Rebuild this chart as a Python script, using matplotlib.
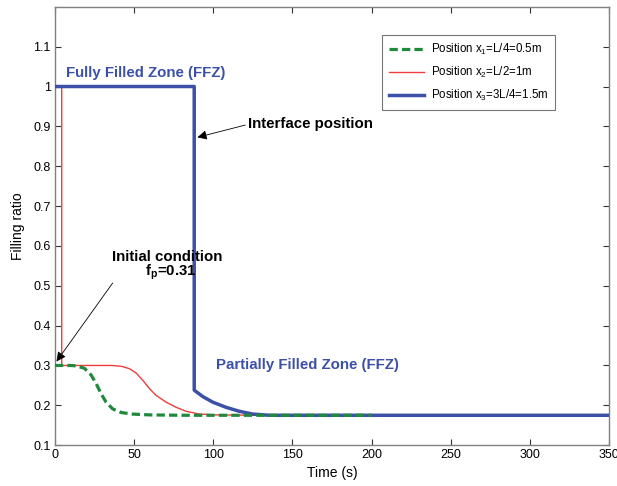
import matplotlib
matplotlib.use("Agg")
import matplotlib.pyplot as plt
from matplotlib.ticker import FuncFormatter

plt.rcParams['font.family'] = ['Liberation Sans', 'DejaVu Sans']
plt.rcParams['mathtext.fontset'] = 'custom'
plt.rcParams['mathtext.rm'] = 'Liberation Sans'
plt.rcParams['mathtext.bf'] = 'Liberation Sans:bold'

# Data
t_x1 = [0, 10, 13.4, 18.6, 22.9, 26, 29.2, 32.3, 36.5, 41.8, 49.1, 59.7, 80, 120, 200]
f_x1 = [0.30, 0.30, 0.299, 0.293, 0.276, 0.255, 0.229, 0.208, 0.191, 0.182, 0.178, 0.176, 0.175, 0.175, 0.175]

t_x2 = [0, 4.3, 4.3, 20, 36, 42, 47.1, 51.3, 55.5, 59.7, 63.9, 70.2, 76.6, 82.9, 91.3, 101.8, 130, 200]
f_x2 = [1.0, 1.0, 0.30, 0.30, 0.300, 0.298, 0.292, 0.281, 0.263, 0.242, 0.225, 0.208, 0.195, 0.185, 0.178, 0.176, 0.175, 0.175]

t_x3 = [0, 88, 88, 93.4, 99.7, 108.1, 116.5, 125, 135.5, 200, 350]
f_x3 = [1.0, 1.0, 0.238, 0.222, 0.208, 0.195, 0.185, 0.178, 0.175, 0.175, 0.175]

labels = [r"Position x$_1$=L/4=0.5m", r"Position x$_2$=L/2=1m", r"Position x$_3$=3L/4=1.5m"]
c_green = "#1f8a3c"
c_red = "#f03c3c"
c_blue = "#3c50a8"
c_spine = "#808080"

fig = plt.figure(figsize=(6.17, 4.86), dpi=100)
ax = fig.add_axes([0.089, 0.084, 0.898, 0.902])

l2, = ax.plot(t_x2, f_x2, color=c_red, lw=1.0, zorder=2, label=labels[1])
l3, = ax.plot(t_x3, f_x3, color=c_blue, lw=2.5, zorder=3, label=labels[2])
l1, = ax.plot(t_x1, f_x1, color=c_green, lw=2.3, ls=(0, (2.6, 1.3)), zorder=4, label=labels[0])

ax.set_xlim(0, 350)
ax.set_ylim(0.1, 1.2)
ax.set_xticks([0, 50, 100, 150, 200, 250, 300, 350])
ax.set_yticks([0.1, 0.2, 0.3, 0.4, 0.5, 0.6, 0.7, 0.8, 0.9, 1.0, 1.1])
ax.yaxis.set_major_formatter(FuncFormatter(lambda v, p: f"{v:g}"))
ax.tick_params(direction='in', top=True, right=True, length=4, width=0.8,
               color="#333333", labelsize=9, pad=3)
for s in ax.spines.values():
    s.set_color(c_spine)
    s.set_linewidth(1.0)

ax.set_xlabel("Time (s)", fontsize=10, labelpad=3)
ax.set_ylabel("Filling ratio", fontsize=10, labelpad=6)

leg = ax.legend(handles=[l1, l2, l3], loc='upper right', bbox_to_anchor=(0.9025, 0.936),
                borderaxespad=0, fontsize=8.3, frameon=True, fancybox=False,
                edgecolor="#555555", handlelength=3.0, borderpad=0.6,
                labelspacing=0.7, handletextpad=0.6)
leg.get_frame().set_linewidth(0.8)

fs = 10.8
ax.text(7.3, 1.035, "Fully Filled Zone (FFZ)", color=c_blue, fontsize=fs,
        fontweight='bold', ha='left', va='center')
ax.text(102, 0.30, "Partially Filled Zone (FFZ)", color=c_blue, fontsize=fs,
        fontweight='bold', ha='left', va='center')

ax.annotate("Interface position", xy=(90, 0.8725), xytext=(122, 0.905),
            fontsize=fs, fontweight='bold', ha='left', va='center',
            arrowprops=dict(arrowstyle='-|>', color='black', lw=0.6,
                            mutation_scale=14, shrinkA=0, shrinkB=0,
                            relpos=(0, 0.5)))
ax.annotate("", xy=(1.0, 0.31), xytext=(36.5, 0.507),
            arrowprops=dict(arrowstyle='-|>', color='black', lw=0.6,
                            mutation_scale=14, shrinkA=0, shrinkB=0))
ax.text(71, 0.572, "Initial condition", fontsize=fs, fontweight='bold',
        ha='center', va='center')
ax.text(73, 0.534, r"f$_{\mathbf{p}}$=0.31", fontsize=fs, fontweight='bold',
        ha='center', va='center')

fig.savefig("out.png", dpi=100)
